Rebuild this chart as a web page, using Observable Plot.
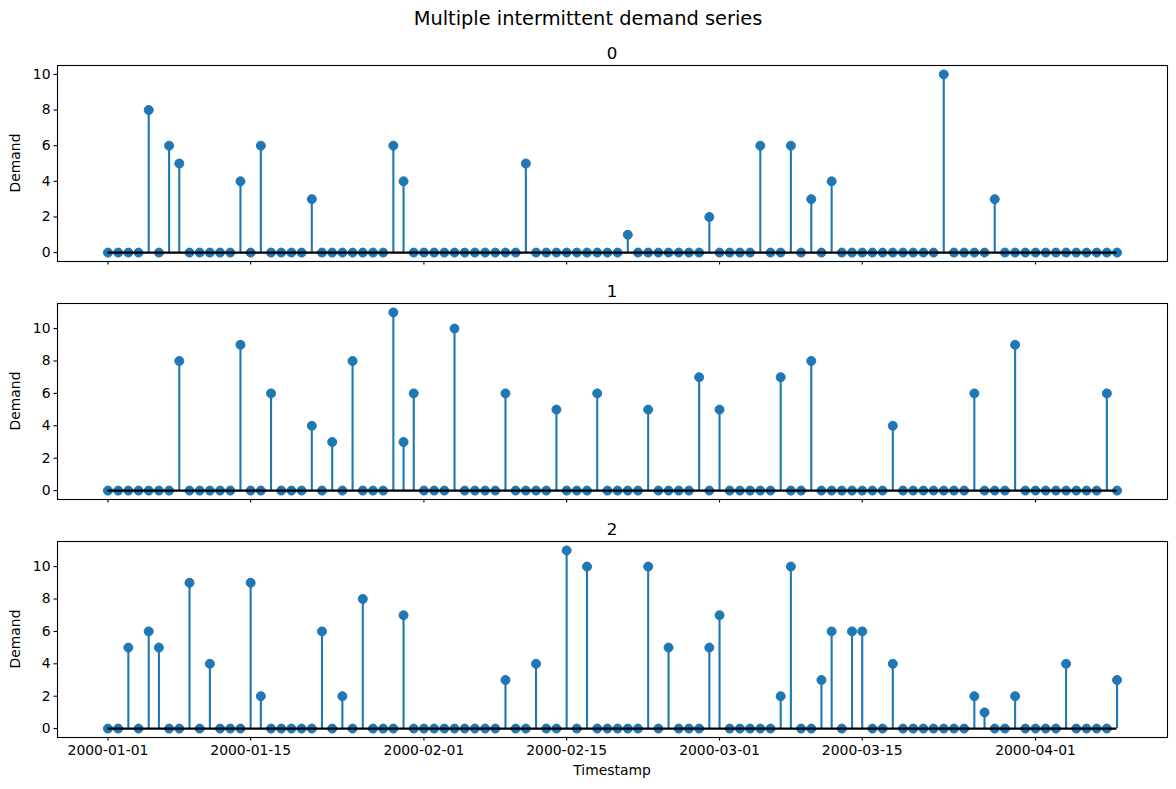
<!DOCTYPE html>
<html>
<head>
<meta charset="utf-8">
<script src="https://cdn.jsdelivr.net/npm/d3@7"></script>
<script src="https://cdn.jsdelivr.net/npm/@observablehq/plot@0.6"></script>
<style>
  html, body { margin: 0; padding: 0; background: #fff; }
  #fig { position: relative; width: 1176px; height: 789px; background: #fff; font-family: "DejaVu Sans", sans-serif; color: #000; overflow: hidden; }
  .abs { position: absolute; white-space: nowrap; }
  .panel { position: absolute; left: 0; }
  .panel svg { display: block; }
</style>
</head>
<body>
<div id="fig"></div>
<script>
// ---- data ----
const startDate = "2000-01-01";
const seriesNames = ["0", "1", "2"];
const series0 = [
  0,0,0,0,8,0,6,5,0,0,
  0,0,0,4,0,6,0,0,0,0,
  3,0,0,0,0,0,0,0,6,4,
  0,0,0,0,0,0,0,0,0,0,
  0,5,0,0,0,0,0,0,0,0,
  0,1,0,0,0,0,0,0,0,2,
  0,0,0,0,6,0,0,6,0,3,
  0,4,0,0,0,0,0,0,0,0,
  0,0,10,0,0,0,0,3,0,0,
  0,0,0,0,0,0,0,0,0,0
];
const series1 = [
  0,0,0,0,0,0,0,8,0,0,
  0,0,0,9,0,0,6,0,0,0,
  4,0,3,0,8,0,0,0,11,3,
  6,0,0,0,10,0,0,0,0,6,
  0,0,0,0,5,0,0,0,6,0,
  0,0,0,5,0,0,0,0,7,0,
  5,0,0,0,0,0,7,0,0,8,
  0,0,0,0,0,0,0,4,0,0,
  0,0,0,0,0,6,0,0,0,9,
  0,0,0,0,0,0,0,0,6,0
];
const series2 = [
  0,0,5,0,6,5,0,0,9,0,
  4,0,0,0,9,2,0,0,0,0,
  0,6,0,2,0,8,0,0,0,7,
  0,0,0,0,0,0,0,0,0,3,
  0,0,4,0,0,11,0,10,0,0,
  0,0,0,10,0,5,0,0,0,5,
  7,0,0,0,0,0,2,10,0,0,
  3,6,0,6,6,0,0,4,0,0,
  0,0,0,0,0,2,1,0,0,2,
  0,0,0,0,4,0,0,0,0,3
];
const xTickLabels = ["2000-01-01","2000-01-15","2000-02-01","2000-02-15","2000-03-01","2000-03-15","2000-04-01"];
const yTicks = [0, 2, 4, 6, 8, 10];
const allSeries = [series0, series1, series2];

// ---- layout ----
const W = 1176;
const frameLeft = 57, frameRight = 1167;
const frameTops = [65, 303, 541];
const frameH = 196;
const mTop = 2, mBottom = 30;
const color = "#1f77b4";
const fontFamily = "DejaVu Sans, sans-serif";

const start = new Date(startDate + "T00:00:00Z");
const dates = series0.map((_, i) => d3.utcDay.offset(start, i));
const n = dates.length;
const span = +dates[n - 1] - +start;
const xDomain = [new Date(+start - 0.05 * span), new Date(+dates[n - 1] + 0.05 * span)];
const xTicks = xTickLabels.map(s => new Date(s + "T00:00:00Z"));

const fig = document.getElementById("fig");

function addText(txt, left, top, size, opts = {}) {
  const d = document.createElement("div");
  d.className = "abs";
  d.textContent = txt;
  d.style.fontSize = size + "px";
  d.style.lineHeight = "1";
  d.style.left = left + "px";
  d.style.top = top + "px";
  d.style.transform = opts.transform || "translate(-50%, -50%)";
  fig.appendChild(d);
  return d;
}

// suptitle
addText("Multiple intermittent demand series", W / 2, 19, 19.4);

allSeries.forEach((vals, k) => {
  const data = vals.map((v, i) => ({date: dates[i], value: v}));
  const maxV = d3.max(vals);
  const yDomain = [-0.05 * maxV, maxV * 1.05];
  const isLast = k === allSeries.length - 1;
  const plot = Plot.plot({
    width: W,
    height: mTop + frameH + mBottom,
    marginLeft: frameLeft,
    marginRight: W - frameRight,
    marginTop: mTop,
    marginBottom: mBottom,
    style: {fontFamily, fontSize: "13.9px", color: "#000", background: "transparent", overflow: "visible"},
    x: {type: "utc", domain: xDomain},
    y: {domain: yDomain},
    marks: [
      Plot.axisY({ticks: yTicks, tickSize: 3.5, tickPadding: 3.5, label: null, fontSize: 13.9, strokeWidth: 1.1}),
      Plot.axisX({ticks: xTicks, tickSize: 3.5, tickPadding: 4, label: null, fontSize: 13.9, strokeWidth: 1.1,
        tickFormat: isLast ? d3.utcFormat("%Y-%m-%d") : () => ""}),
      Plot.ruleX(data, {x: "date", y1: 0, y2: "value", stroke: color, strokeWidth: 2.1}),
      Plot.dot(data, {x: "date", y: "value", r: 4.5, fill: color, stroke: color, strokeWidth: 1}),
      Plot.ruleY([0], {x1: dates[0], x2: dates[n - 1], stroke: "#000", strokeWidth: 2.1}),
      Plot.frame({stroke: "#000", strokeWidth: 1.1})
    ]
  });
  const wrap = document.createElement("div");
  wrap.className = "panel";
  wrap.style.top = (frameTops[k] - mTop) + "px";
  wrap.appendChild(plot);
  fig.appendChild(wrap);

  // subplot title
  addText(seriesNames[k], (frameLeft + frameRight) / 2, frameTops[k] - 12.5, 16.7);
  // y label
  addText("Demand", 16, frameTops[k] + frameH / 2, 13.9, {transform: "translate(-50%, -50%) rotate(-90deg)"});
});

// x label
addText("Timestamp", (frameLeft + frameRight) / 2, 771, 13.9);
</script>
</body>
</html>
